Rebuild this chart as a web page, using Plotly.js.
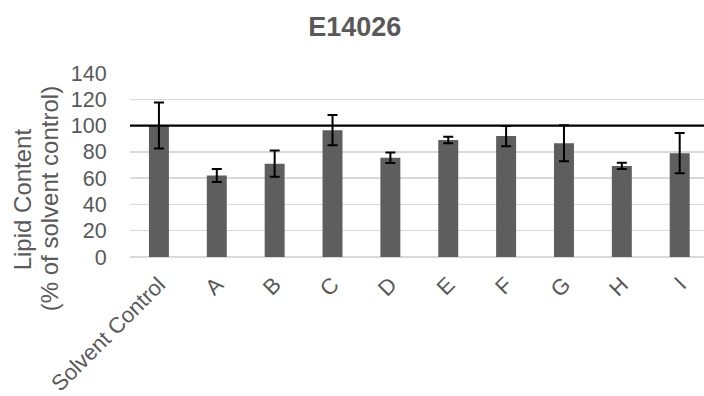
<!DOCTYPE html>
<html>
<head>
<meta charset="utf-8">
<script src="https://cdn.plot.ly/plotly-3.0.1.min.js"></script>
<style>html,body{margin:0;padding:0;background:#fff;}#chart{width:704px;height:396px;}</style>
</head>
<body>
<div id="chart"></div>
<script>
const categories = ["Solvent Control", "A", "B", "C", "D", "E", "F", "G", "H", "I"];
const lipidValues = [100, 62, 71, 96.5, 75.5, 89, 92, 86.5, 69.3, 79];
const errorValues = [17.5, 5, 10, 11.5, 4, 2.5, 7.7, 13.7, 2.4, 15.3];
const referenceLevel = 100;
const yTickValues = [0, 20, 40, 60, 80, 100, 120, 140];
const chartTitle = "E14026";
const yTitleLine1 = "Lipid Content";
const yTitleLine2 = "(% of solvent control)";

const gray = "#595959";
const font = "Liberation Sans, Arial, sans-serif";

const trace = {
  type: "bar",
  x: categories,
  y: lipidValues,
  width: 0.345,
  marker: {color: "#5e5e5e"},
  error_y: {type: "data", array: errorValues, visible: true, color: "#000", thickness: 2, width: 5},
  hoverinfo: "x+y"
};

const layout = {
  width: 704, height: 396,
  margin: {l: 130, r: 0, t: 73, b: 139, pad: 0},
  paper_bgcolor: "#fff", plot_bgcolor: "#fff",
  showlegend: false,
  title: {text: "<b>" + chartTitle + "</b>", font: {family: font, size: 27, color: gray}, x: 0.504, xref: "container", y: 0.932, yref: "container", yanchor: "middle"},
  xaxis: {
    type: "category", range: [-0.5, 9.42], tickangle: -45,
    tickfont: {family: font, size: 22, color: gray},
    showgrid: false, showline: false, ticks: "outside", ticklen: 5, tickcolor: "rgba(0,0,0,0)", fixedrange: true
  },
  yaxis: {
    range: [0, 140], tickvals: yTickValues, ticktext: yTickValues.map(String),
    tickfont: {family: font, size: 21.5, color: gray},
    showgrid: true, gridcolor: "#d9d9d9", gridwidth: 1.5,
    zeroline: true, zerolinecolor: "#d9d9d9", zerolinewidth: 1.5,
    showline: false, ticks: "outside", ticklen: 18, tickcolor: "rgba(0,0,0,0)", fixedrange: true
  },
  shapes: [{type: "line", xref: "paper", x0: 0, x1: 1, yref: "y", y0: referenceLevel, y1: referenceLevel, line: {color: "#000", width: 2.2}, layer: "above"}],
  annotations: [
    {text: yTitleLine1, xref: "paper", yref: "paper", x: -0.188, y: 0.314, textangle: -90, showarrow: false, xanchor: "center", yanchor: "middle", font: {family: font, size: 24, color: gray}},
    {text: yTitleLine2, xref: "paper", yref: "paper", x: -0.141, y: 0.314, textangle: -90, showarrow: false, xanchor: "center", yanchor: "middle", font: {family: font, size: 24, color: gray}}
  ]
};

Plotly.newPlot("chart", [trace], layout, {displayModeBar: false, staticPlot: true});
</script>
</body>
</html>
